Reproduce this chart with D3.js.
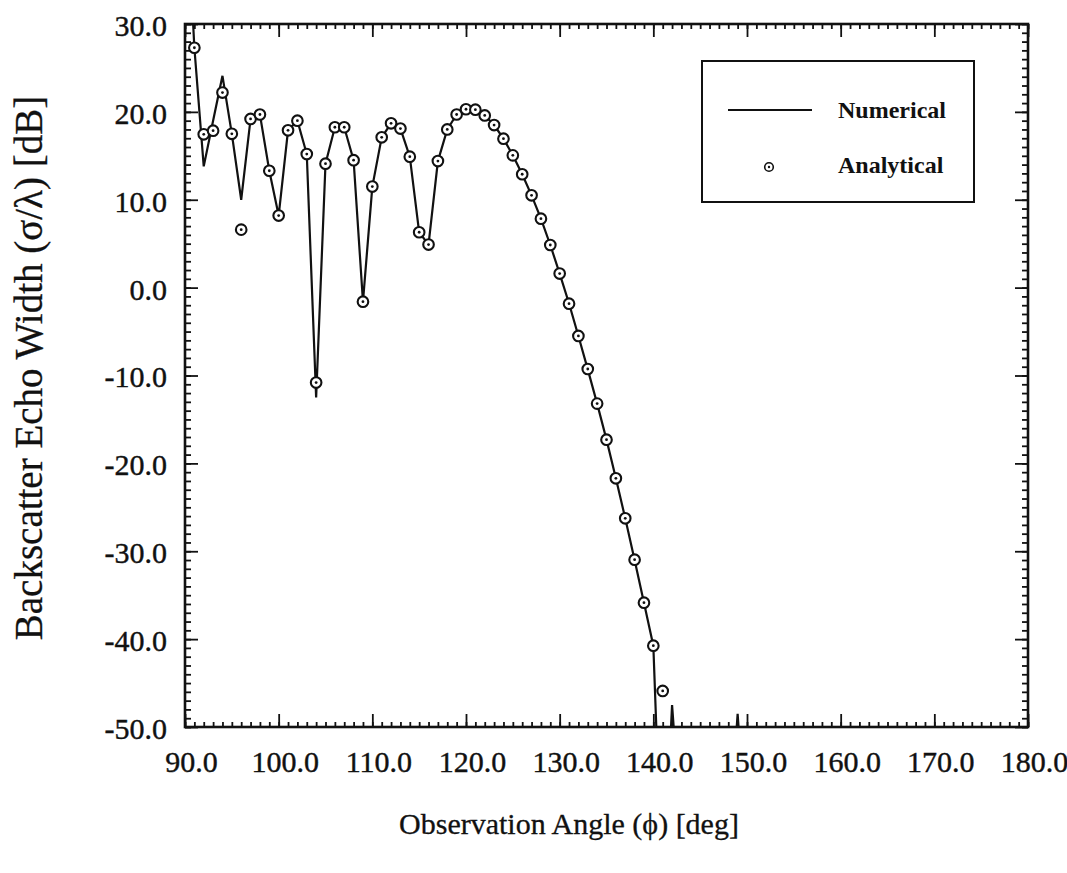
<!DOCTYPE html>
<html>
<head>
<meta charset="utf-8">
<script src="https://cdn.jsdelivr.net/npm/d3@7"></script>
<style>
  html, body { margin: 0; padding: 0; background: #fff; }
  svg { display: block; }
  svg text { font-family: "Liberation Serif", "Times New Roman", serif !important; fill: #111; }
</style>
</head>
<body>
<svg id="chart" width="1067" height="873"></svg>
<script>
// ---- Data ----
const numericalAngle = [90, 91, 92, 93, 94, 95, 96, 97, 98, 99, 100, 101, 102, 103, 104, 105, 106, 107, 108, 109, 110,
  111, 112, 113, 114, 115, 116, 117, 118, 119, 120, 121, 122, 123, 124, 125, 126, 127, 128, 129, 130,
  131, 132, 133, 134, 135, 136, 137, 138, 139, 140, 141, 142, 143, 144, 145, 146, 147, 148, 149, 150];
const numericalDB = [48, 27.3, 13.8, 19.0, 24.1, 17.5, 10.0, 19.2, 19.7, 13.3, 8.2, 17.9, 19.0, 15.2, -12.5, 14.1, 18.25, 18.25, 14.5, -1.6, 11.5,
  17.1, 18.7, 18.1, 14.9, 6.3, 4.9, 14.4, 18.0, 19.7, 20.3, 20.25, 19.6, 18.5, 16.95, 15.05, 12.9, 10.5, 7.85, 4.85, 1.6,
  -1.8, -5.5, -9.3, -13.2, -17.3, -21.7, -26.25, -31.0, -35.85, -40.75, -70, -47.5, -62, -66, -70, -68, -66, -64, -48.5, -64];

const analyticalAngle = [91, 92, 93, 94, 95, 96, 97, 98, 99, 100, 101, 102, 103, 104, 105, 106, 107, 108, 109, 110,
  111, 112, 113, 114, 115, 116, 117, 118, 119, 120, 121, 122, 123, 124, 125, 126, 127, 128, 129, 130,
  131, 132, 133, 134, 135, 136, 137, 138, 139, 140, 141];
const analyticalDB = [27.3, 17.45, 17.86, 22.2, 17.5, 6.6, 19.2, 19.7, 13.3, 8.2, 17.9, 19.0, 15.2, -10.8, 14.1, 18.25, 18.25, 14.5, -1.6, 11.5,
  17.1, 18.7, 18.1, 14.9, 6.3, 4.9, 14.4, 18.0, 19.7, 20.3, 20.25, 19.6, 18.5, 16.95, 15.05, 12.9, 10.5, 7.85, 4.85, 1.6,
  -1.83, -5.5, -9.26, -13.2, -17.3, -21.7, -26.25, -30.96, -35.85, -40.75, -45.9];

const xMajorTicks = [90, 100, 110, 120, 130, 140, 150, 160, 170, 180];
const yMajorTicks = [30, 20, 10, 0, -10, -20, -30, -40, -50];
const xMinorTicks = d3.range(90, 181, 1);
const yMinorTicks = d3.range(-50, 31, 1);

const seriesNames = ["Numerical", "Analytical"];
const xTitle = "Observation Angle (\u03D5) [deg]";
const yTitle = "Backscatter Echo Width (\u03C3/\u03BB) [dB]";

// ---- Layout ----
const plot = { left: 185, right: 1028, top: 24, bottom: 727 };
const svg = d3.select("#chart");

const x = d3.scaleLinear().domain([90, 180]).range([plot.left, plot.right]);
const y = d3.scaleLinear().domain([-50, 30]).range([plot.bottom, plot.top]);
const fmt = v => v.toFixed(1);

function styleAxis(g) {
  g.attr("font-family", null);
  g.select(".domain").remove();
  g.selectAll(".tick line").attr("stroke", "#111").attr("stroke-width", 1.8);
}

// minor ticks (all four sides)
svg.append("g").attr("transform", `translate(0,${plot.bottom})`)
  .call(d3.axisBottom(x).tickValues(xMinorTicks).tickSize(-5).tickFormat(""))
  .call(styleAxis);
svg.append("g").attr("transform", `translate(0,${plot.top})`)
  .call(d3.axisTop(x).tickValues(xMinorTicks).tickSize(-5).tickFormat(""))
  .call(styleAxis);
svg.append("g").attr("transform", `translate(${plot.left},0)`)
  .call(d3.axisLeft(y).tickValues(yMinorTicks).tickSize(-6).tickFormat(""))
  .call(styleAxis);
svg.append("g").attr("transform", `translate(${plot.right},0)`)
  .call(d3.axisRight(y).tickValues(yMinorTicks).tickSize(-6).tickFormat(""))
  .call(styleAxis);

// major ticks
const xAxisB = svg.append("g").attr("transform", `translate(0,${plot.bottom})`)
  .call(d3.axisBottom(x).tickValues(xMajorTicks).tickSize(-13).tickPadding(24).tickFormat(fmt))
  .call(styleAxis);
svg.append("g").attr("transform", `translate(0,${plot.top})`)
  .call(d3.axisTop(x).tickValues(xMajorTicks).tickSize(-13).tickFormat(""))
  .call(styleAxis);
const yAxisL = svg.append("g").attr("transform", `translate(${plot.left},0)`)
  .call(d3.axisLeft(y).tickValues(yMajorTicks).tickSize(-13).tickPadding(18).tickFormat(fmt))
  .call(styleAxis);
svg.append("g").attr("transform", `translate(${plot.right},0)`)
  .call(d3.axisRight(y).tickValues(yMajorTicks).tickSize(-13).tickFormat(""))
  .call(styleAxis);

svg.selectAll(".tick text")
  .style("font-family", "'Liberation Serif', 'Times New Roman', serif")
  .attr("font-size", 30)
  .attr("fill", "#111")
  .attr("stroke", "#111").attr("stroke-width", 0.4);
xAxisB.selectAll(".tick text").attr("dx", "0.2em");
yAxisL.selectAll(".tick text").attr("dy", "0.38em");

// frame
svg.append("rect")
  .attr("x", plot.left).attr("y", plot.top)
  .attr("width", plot.right - plot.left).attr("height", plot.bottom - plot.top)
  .attr("fill", "none").attr("stroke", "#111").attr("stroke-width", 2.6);

// clip
svg.append("clipPath").attr("id", "clip")
  .append("rect").attr("x", plot.left).attr("y", plot.top)
  .attr("width", plot.right - plot.left).attr("height", plot.bottom - plot.top);

// numerical line
const lineData = numericalAngle.map((a, i) => [a, numericalDB[i]]);
svg.append("path")
  .datum(lineData)
  .attr("clip-path", "url(#clip)")
  .attr("fill", "none")
  .attr("stroke", "#111")
  .attr("stroke-width", 2.2)
  .attr("stroke-linejoin", "miter")
  .attr("d", d3.line().x(d => x(d[0])).y(d => y(d[1])));

// analytical points
const ptData = analyticalAngle.map((a, i) => [a, analyticalDB[i]]);
const pts = svg.append("g").attr("clip-path", "url(#clip)");
pts.selectAll("circle.outer").data(ptData).join("circle")
  .attr("class", "outer")
  .attr("cx", d => x(d[0])).attr("cy", d => y(d[1]))
  .attr("r", 5.3)
  .attr("fill", "#fff").attr("stroke", "#111").attr("stroke-width", 2.1);
pts.selectAll("circle.dot").data(ptData).join("circle")
  .attr("class", "dot")
  .attr("cx", d => x(d[0])).attr("cy", d => y(d[1]))
  .attr("r", 1.4)
  .attr("fill", "#111");

// legend
const lg = svg.append("g");
lg.append("rect").attr("x", 702).attr("y", 61).attr("width", 272).attr("height", 141)
  .attr("fill", "#fff").attr("stroke", "#111").attr("stroke-width", 2);
lg.append("line").attr("x1", 728).attr("x2", 812).attr("y1", 110).attr("y2", 110)
  .attr("stroke", "#111").attr("stroke-width", 2);
lg.append("circle").attr("cx", 769).attr("cy", 167).attr("r", 4.3)
  .attr("fill", "#fff").attr("stroke", "#111").attr("stroke-width", 1.6);
lg.append("circle").attr("cx", 769).attr("cy", 167).attr("r", 1.2).attr("fill", "#111");
lg.selectAll("text.lab").data(seriesNames).join("text")
  .attr("class", "lab")
  .attr("x", 838)
  .attr("y", (d, i) => i === 0 ? 118 : 173)
  .attr("font-size", 24)
  .attr("font-weight", "bold")
  .text(d => d);

// axis titles
svg.append("text")
  .attr("x", 569).attr("y", 834)
  .attr("text-anchor", "middle")
  .attr("font-size", 30)
  .attr("stroke", "#111").attr("stroke-width", 0.3)
  .text(xTitle);
svg.append("text")
  .attr("transform", "translate(42,368) rotate(-90)")
  .attr("text-anchor", "middle")
  .attr("font-size", 39)
  .attr("stroke", "#111").attr("stroke-width", 0.3)
  .text(yTitle);
</script>
</body>
</html>
